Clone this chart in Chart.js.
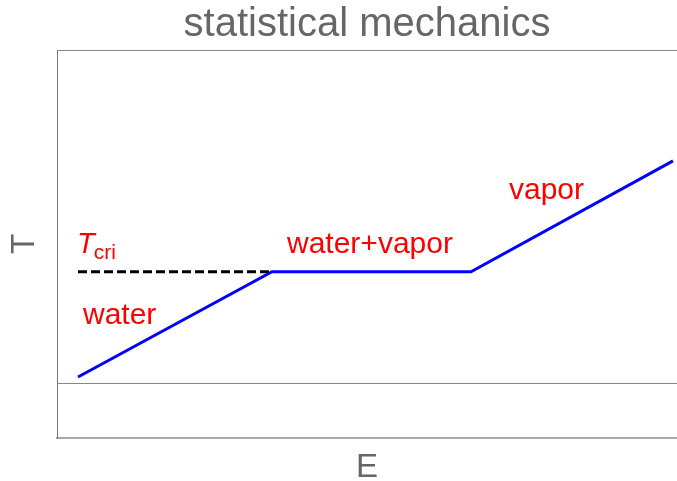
<!DOCTYPE html>
<html>
<head>
<meta charset="utf-8">
<script src="https://cdn.jsdelivr.net/npm/chart.js@4.4.1/dist/chart.umd.min.js"></script>
<style>
  html, body { margin: 0; padding: 0; background: #fff; }
  #wrap { width: 677px; height: 481px; }
</style>
</head>
<body>
<div id="wrap"><canvas id="chart"></canvas></div>
<script>
// dados da curva T(E)
const energy = [0.105, 1.075, 2.07, 3.08];
const temperature = [0.05, 1, 1, 2];
// linha tracejada da temperatura critica
const critEnergy = [0.105, 1.075];
const critTemp = [1, 1];
// rótulos (texto e ancora em unidades de dados)
const labelTexts = ['water', 'water+vapor', 'vapor'];
const labelE = [0.13, 1.15, 2.26];
const labelT = [0.53, 1.17, 1.66];

const FONT = '"Liberation Sans", Arial, sans-serif';

// desenha a moldura superior, o eixo T=0 e os textos vermelhos
const annotations = {
  id: 'annotations',
  afterDraw(chart) {
    const { ctx, chartArea, scales } = chart;
    const x = scales.x, y = scales.y;
    ctx.save();
    // moldura de cima
    ctx.strokeStyle = '#888';
    ctx.lineWidth = 1;
    ctx.beginPath();
    ctx.moveTo(chartArea.left, chartArea.top + 0.5);
    ctx.lineTo(chartArea.right, chartArea.top + 0.5);
    ctx.stroke();
    // eixo horizontal em T = 0
    const y0 = Math.round(y.getPixelForValue(0)) + 0.5;
    ctx.beginPath();
    ctx.moveTo(chartArea.left, y0);
    ctx.lineTo(chartArea.right, y0);
    ctx.stroke();
    // textos
    ctx.fillStyle = '#ff0000';
    ctx.textBaseline = 'alphabetic';
    ctx.textAlign = 'left';
    ctx.font = '30px ' + FONT;
    labelTexts.forEach((t, i) => {
      ctx.fillText(t, x.getPixelForValue(labelE[i]), y.getPixelForValue(labelT[i]));
    });
    // T_cri
    const tx = x.getPixelForValue(0.10);
    const ty = y.getPixelForValue(1.17);
    ctx.font = 'italic 29px ' + FONT;
    ctx.fillText('T', tx, ty);
    const w = ctx.measureText('T').width;
    ctx.font = '21px ' + FONT;
    ctx.fillText('cri', tx + w - 1, ty + 6);
    ctx.restore();
  }
};

new Chart(document.getElementById('chart'), {
  type: 'line',
  data: {
    datasets: [
      {
        data: energy.map((e, i) => ({ x: e, y: temperature[i] })),
        borderColor: '#0000ff',
        borderWidth: 3,
        pointRadius: 0,
        tension: 0,
        fill: false
      },
      {
        data: critEnergy.map((e, i) => ({ x: e, y: critTemp[i] })),
        borderColor: '#000000',
        borderWidth: 3,
        borderDash: [9, 4],
        pointRadius: 0,
        fill: false
      }
    ]
  },
  options: {
    responsive: true,
    maintainAspectRatio: false,
    animation: false,
    layout: { padding: 0 },
    scales: {
      x: {
        type: 'linear',
        min: 0,
        max: 3.1,
        grid: { display: false, drawTicks: false },
        ticks: { display: false },
        border: { display: true, color: '#aaa', width: 2 },
        title: {
          display: true,
          text: 'E',
          color: '#666',
          font: { family: FONT, size: 33, lineHeight: 0.8 },
          padding: { top: 16.6, bottom: 0 }
        }
      },
      y: {
        type: 'linear',
        min: -0.5,
        max: 3.0,
        grid: { display: false, drawTicks: false },
        ticks: { display: false },
        border: { display: true, color: '#777', width: 1 },
        title: {
          display: true,
          text: 'T',
          color: '#666',
          font: { family: FONT, size: 33, lineHeight: 0.8 },
          padding: { top: 11.3, bottom: 19.3 }
        }
      }
    },
    plugins: {
      legend: { display: false },
      tooltip: { enabled: false },
      title: {
        display: true,
        fullSize: false,
        text: 'statistical mechanics',
        color: '#666',
        font: { family: FONT, size: 40, weight: 'normal', lineHeight: 1.2 },
        padding: { top: 1, bottom: 1 }
      }
    }
  },
  plugins: [annotations]
});
</script>
</body>
</html>
